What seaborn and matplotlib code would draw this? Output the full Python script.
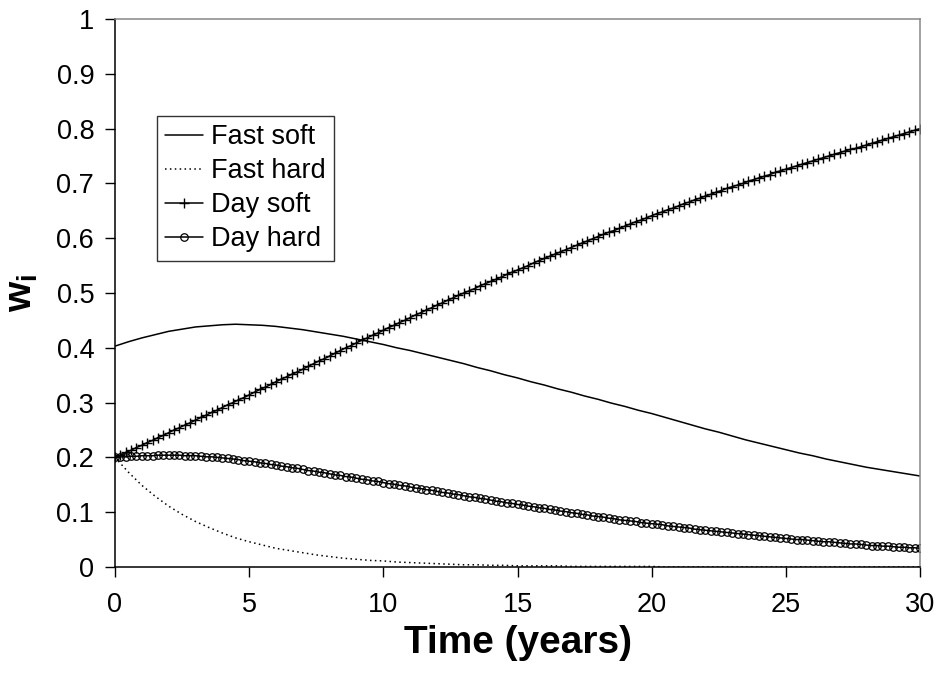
import numpy as np
import pandas as pd
import matplotlib
matplotlib.use("Agg")
import matplotlib.pyplot as plt
import seaborn as sns

# Time grids (years)
t_fast = [i * 0.5 for i in range(61)]
t_day = [round(i * 0.2, 1) for i in range(151)]

fast_soft = [0.403, 0.411, 0.418, 0.424, 0.430, 0.434, 0.438, 0.440, 0.442, 0.443,
             0.442, 0.441, 0.439, 0.436, 0.433, 0.429, 0.425, 0.421, 0.416, 0.411,
             0.406, 0.400, 0.395, 0.389, 0.383, 0.377, 0.371, 0.364, 0.358, 0.351,
             0.345, 0.338, 0.332, 0.325, 0.319, 0.312, 0.306, 0.299, 0.293, 0.286,
             0.280, 0.273, 0.266, 0.259, 0.252, 0.246, 0.239, 0.232, 0.226, 0.220,
             0.214, 0.208, 0.203, 0.197, 0.192, 0.187, 0.182, 0.178, 0.174, 0.170,
             0.166]

fast_hard = [0.200, 0.173, 0.149, 0.129, 0.111, 0.096, 0.083, 0.072, 0.062, 0.053,
             0.046, 0.040, 0.034, 0.030, 0.026, 0.022, 0.019, 0.016, 0.014, 0.012,
             0.011, 0.009, 0.008, 0.007, 0.006, 0.005, 0.004, 0.004, 0.003, 0.003,
             0.002, 0.002, 0.002, 0.002, 0.001, 0.001, 0.001, 0.001, 0.001, 0.001,
             0.001, 0.000, 0.000, 0.000, 0.000, 0.000, 0.000, 0.000, 0.000, 0.000,
             0.000, 0.000, 0.000, 0.000, 0.000, 0.000, 0.000, 0.000, 0.000, 0.000,
             0.000]

day_soft = [0.200, 0.204, 0.209, 0.213, 0.218, 0.222, 0.227, 0.231, 0.236, 0.240,
            0.245, 0.250, 0.254, 0.259, 0.263, 0.268, 0.273, 0.277, 0.282, 0.286,
            0.291, 0.296, 0.300, 0.305, 0.309, 0.314, 0.319, 0.324, 0.328, 0.333,
            0.338, 0.343, 0.347, 0.352, 0.356, 0.361, 0.366, 0.371, 0.376, 0.380,
            0.385, 0.390, 0.395, 0.400, 0.404, 0.409, 0.414, 0.418, 0.423, 0.427,
            0.432, 0.437, 0.441, 0.446, 0.450, 0.455, 0.460, 0.464, 0.469, 0.473,
            0.478, 0.482, 0.487, 0.491, 0.496, 0.500, 0.504, 0.508, 0.513, 0.517,
            0.521, 0.525, 0.529, 0.534, 0.538, 0.542, 0.546, 0.550, 0.555, 0.559,
            0.563, 0.567, 0.571, 0.575, 0.579, 0.583, 0.587, 0.591, 0.595, 0.599,
            0.603, 0.607, 0.611, 0.614, 0.618, 0.622, 0.626, 0.630, 0.633, 0.637,
            0.641, 0.645, 0.648, 0.652, 0.655, 0.659, 0.663, 0.666, 0.670, 0.673,
            0.677, 0.680, 0.684, 0.687, 0.691, 0.694, 0.697, 0.700, 0.704, 0.707,
            0.710, 0.713, 0.716, 0.720, 0.723, 0.726, 0.729, 0.732, 0.735, 0.738,
            0.741, 0.744, 0.747, 0.750, 0.753, 0.756, 0.759, 0.762, 0.764, 0.767,
            0.770, 0.773, 0.776, 0.779, 0.782, 0.785, 0.788, 0.791, 0.794, 0.797,
            0.800]

day_hard = [0.200, 0.201, 0.201, 0.202, 0.202, 0.203, 0.203, 0.203, 0.204, 0.204,
            0.204, 0.204, 0.204, 0.203, 0.203, 0.203, 0.202, 0.201, 0.201, 0.200,
            0.199, 0.198, 0.197, 0.196, 0.194, 0.193, 0.192, 0.190, 0.189, 0.187,
            0.186, 0.184, 0.183, 0.181, 0.180, 0.178, 0.176, 0.175, 0.173, 0.172,
            0.170, 0.168, 0.167, 0.165, 0.164, 0.162, 0.160, 0.159, 0.157, 0.156,
            0.154, 0.152, 0.151, 0.149, 0.148, 0.146, 0.144, 0.143, 0.141, 0.140,
            0.138, 0.136, 0.135, 0.133, 0.132, 0.130, 0.128, 0.127, 0.125, 0.124,
            0.122, 0.120, 0.119, 0.117, 0.116, 0.114, 0.113, 0.111, 0.110, 0.108,
            0.107, 0.105, 0.104, 0.102, 0.101, 0.099, 0.098, 0.096, 0.095, 0.093,
            0.092, 0.091, 0.089, 0.088, 0.086, 0.085, 0.084, 0.083, 0.081, 0.080,
            0.079, 0.078, 0.077, 0.075, 0.074, 0.073, 0.072, 0.071, 0.069, 0.068,
            0.067, 0.066, 0.065, 0.064, 0.063, 0.062, 0.061, 0.060, 0.059, 0.058,
            0.057, 0.056, 0.055, 0.054, 0.053, 0.052, 0.051, 0.050, 0.050, 0.049,
            0.048, 0.047, 0.046, 0.046, 0.045, 0.044, 0.043, 0.042, 0.042, 0.041,
            0.040, 0.039, 0.039, 0.038, 0.038, 0.037, 0.036, 0.036, 0.035, 0.035,
            0.034]

x_ticks = [0, 5, 10, 15, 20, 25, 30]
y_ticks = [0, 0.1, 0.2, 0.3, 0.4, 0.5, 0.6, 0.7, 0.8, 0.9, 1]
y_tick_labels = ["0", "0.1", "0.2", "0.3", "0.4", "0.5", "0.6", "0.7", "0.8", "0.9", "1"]

sns.set_style("white")
plt.rcParams["font.family"] = ["Liberation Sans", "DejaVu Sans"]
plt.rcParams["mathtext.fontset"] = "custom"
plt.rcParams["mathtext.rm"] = "Liberation Sans"
plt.rcParams["mathtext.bf"] = "Liberation Sans:bold"
plt.rcParams["mathtext.it"] = "Liberation Sans:italic"
for key in ("text.color", "axes.labelcolor", "xtick.color", "ytick.color"):
    plt.rcParams[key] = "black"

fig = plt.figure(figsize=(9.37, 6.79), dpi=100)
ax = fig.add_axes([0.1227, 0.165, 0.8592, 0.807])

df_fast = pd.DataFrame({"t": t_fast, "soft": fast_soft, "hard": fast_hard})
df_day = pd.DataFrame({"t": t_day, "soft": day_soft, "hard": day_hard})

sns.lineplot(data=df_fast, x="t", y="soft", ax=ax, color="black", lw=1.1,
             label="Fast soft", estimator=None)
sns.lineplot(data=df_fast, x="t", y="hard", ax=ax, color="black", lw=1.1,
             linestyle=(0, (1, 2.2)), label="Fast hard", estimator=None)
sns.lineplot(data=df_day, x="t", y="soft", ax=ax, color="black", lw=1.1,
             marker="+", markersize=6.5, markeredgewidth=1.0,
             markeredgecolor="black", label="Day soft", estimator=None)
sns.lineplot(data=df_day, x="t", y="hard", ax=ax, color="black", lw=1.1,
             marker="o", markersize=5.4, markerfacecolor="none",
             markeredgecolor="black", markeredgewidth=0.9,
             label="Day hard", estimator=None)

ax.set_xlim(0, 30)
ax.set_ylim(0, 1)
ax.set_xticks(x_ticks)
ax.set_yticks(y_ticks)
ax.set_yticklabels(y_tick_labels)
ax.tick_params(axis="both", direction="out", length=7, width=1, color="black",
               labelcolor="black", labelsize=19.5, left=True, bottom=True)
ax.tick_params(axis="x", pad=11)
ax.tick_params(axis="y", pad=8)

for side in ("left", "bottom"):
    ax.spines[side].set_color("black")
    ax.spines[side].set_linewidth(1.1)
for side in ("top", "right"):
    ax.spines[side].set_color("#888888")
    ax.spines[side].set_linewidth(1.1)

ax.set_xlabel("Time (years)", fontsize=28, fontweight="bold", labelpad=5)
ax.set_ylabel(r"$\mathbf{w_i}$", fontsize=28, labelpad=12)

leg = ax.legend(loc="upper left", bbox_to_anchor=(0.052, 0.823), fontsize=19.5,
                frameon=True, fancybox=False, shadow=False, handlelength=1.4,
                handletextpad=0.3, borderpad=0.3, labelspacing=0.3,
                borderaxespad=0, numpoints=1)
leg.get_frame().set_edgecolor("black")
leg.get_frame().set_linewidth(1.0)

fig.savefig("out.png", dpi=100, facecolor="white")
